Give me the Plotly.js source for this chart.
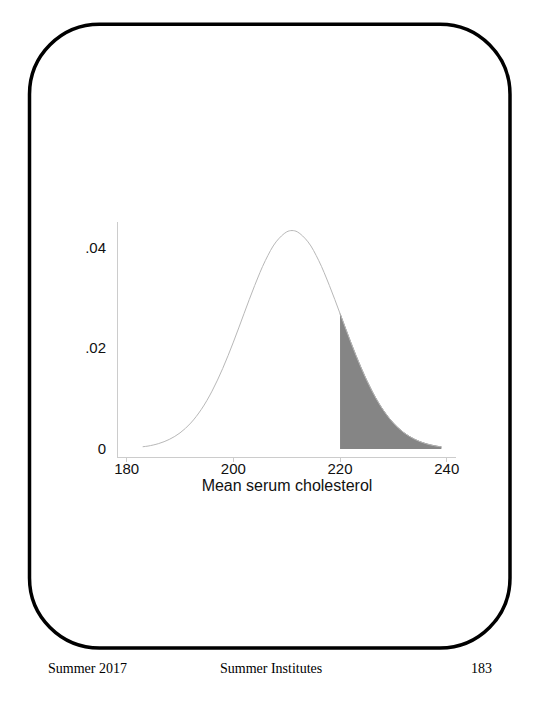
<!DOCTYPE html>
<html>
<head>
<meta charset="utf-8">
<script src="https://cdn.plot.ly/plotly-3.0.1.min.js"></script>
<style>html,body{margin:0;padding:0;background:#fff;}#chart{width:540px;height:720px;}</style>
</head>
<body>
<div id="chart"></div>
<script>
// Density curve
const curveX = [183, 184, 186, 188, 190, 192, 194, 196, 198, 200, 202, 204, 206, 208, 210, 211, 212, 214, 216, 218, 220, 222, 224, 226, 228, 230, 232, 234, 236, 238, 239];
const curveY = [0.00045, 0.00058, 0.00108, 0.00191, 0.00320, 0.00514, 0.00787, 0.01148, 0.01598, 0.02121, 0.02688, 0.03246, 0.03741, 0.04111, 0.04310, 0.04336, 0.04310, 0.04111, 0.03741, 0.03246, 0.02688, 0.02121, 0.01598, 0.01148, 0.00787, 0.00514, 0.00320, 0.00191, 0.00108, 0.00058, 0.00042];
// Shaded upper tail (x >= 220)
const tailX = [220, 222, 224, 226, 228, 230, 232, 234, 236, 238, 239];
const tailY = [0.02688, 0.02121, 0.01598, 0.01148, 0.00787, 0.00514, 0.00320, 0.00191, 0.00108, 0.00058, 0.00042];
const xTickVals = [180, 200, 220, 240];
const xTickText = ['180', '200', '220', '240'];
const yTickVals = [0, 0.02, 0.04];
const yTickText = ['0', '.02', '.04'];
const xTitle = 'Mean serum cholesterol';
const footerTexts = ['Summer 2017', 'Summer Institutes', '183'];

const W = 540, H = 720;
const mL = 118, mR = 540 - 456, mT = 222, mB = 720 - 457;
const pw = W - mL - mR, ph = H - mT - mB;
const px = x => (x - mL) / pw;
const py = y => (H - mB - y) / ph;

// rounded frame path in paper coords
const L = 29.5, R = 510, T = 24.3, B = 648, r = 70, k = 0.4477 * r;
function P(x, y) { return px(x).toFixed(5) + ',' + py(y).toFixed(5); }
const framePath = 'M' + P(L, T + r) +
  ' C' + P(L, T + k) + ' ' + P(L + k, T) + ' ' + P(L + r, T) +
  ' L' + P(R - r, T) +
  ' C' + P(R - k, T) + ' ' + P(R, T + k) + ' ' + P(R, T + r) +
  ' L' + P(R, B - r) +
  ' C' + P(R, B - k) + ' ' + P(R - k, B) + ' ' + P(R - r, B) +
  ' L' + P(L + r, B) +
  ' C' + P(L + k, B) + ' ' + P(L, B - k) + ' ' + P(L, B - r) + ' Z';

const traces = [
  {
    x: tailX, y: tailY, type: 'scatter', mode: 'lines',
    line: {color: '#7a7a7a', width: 1, shape: 'spline'},
    fill: 'tozeroy', fillcolor: '#858585', hoverinfo: 'skip', showlegend: false
  },
  {
    x: curveX, y: curveY, type: 'scatter', mode: 'lines',
    line: {color: '#b8b8b8', width: 1, shape: 'spline'},
    showlegend: false
  }
];

const footerX = [87.5, 271, 481.7];
const annotations = footerTexts.map((t, i) => ({
  text: t, xref: 'paper', yref: 'paper', x: px(footerX[i]), y: py(668),
  xanchor: 'center', yanchor: 'middle', showarrow: false,
  font: {family: 'Liberation Serif, Times New Roman, serif', size: 14, color: '#000'}
}));

const layout = {
  width: W, height: H,
  margin: {l: mL, r: mR, t: mT, b: mB, pad: 0},
  paper_bgcolor: '#fff', plot_bgcolor: '#fff',
  font: {family: 'Liberation Sans, Arial, sans-serif', size: 15, color: '#111'},
  showlegend: false,
  xaxis: {
    range: [178.37, 241.74], tickvals: xTickVals, ticktext: xTickText,
    showline: true, linecolor: '#cccccc', linewidth: 1,
    ticks: 'outside', ticklen: 4, tickcolor: '#cccccc', tickwidth: 1,
    ticklabelstandoff: -6,
    showgrid: false, zeroline: false,
    title: {text: xTitle, standoff: 2, font: {size: 16, color: '#111'}}
  },
  yaxis: {
    range: [-0.00159, 0.04506], tickvals: yTickVals, ticktext: yTickText,
    showline: true, linecolor: '#cccccc', linewidth: 1,
    ticks: '', showgrid: false, zeroline: false,
    ticklabelstandoff: 8
  },
  shapes: [{
    type: 'path', xref: 'paper', yref: 'paper', path: framePath,
    line: {color: '#000', width: 3.5}, fillcolor: 'rgba(0,0,0,0)', layer: 'below'
  }],
  annotations: annotations
};

Plotly.newPlot('chart', traces, layout, {displayModeBar: false, staticPlot: true});
</script>
</body>
</html>
